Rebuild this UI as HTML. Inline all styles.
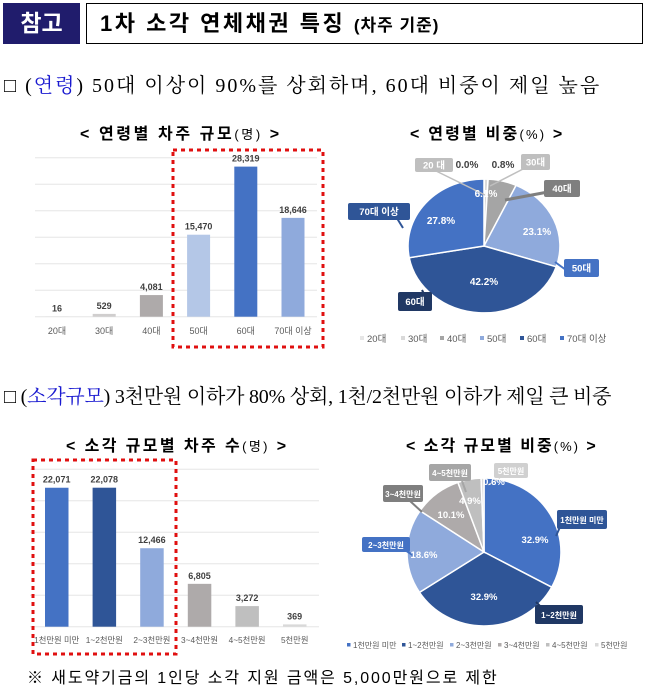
<!DOCTYPE html>
<html><head><meta charset="utf-8">
<style>
html,body{margin:0;padding:0;background:#fff;}
body{width:656px;height:696px;position:relative;overflow:hidden;font-family:"Liberation Sans","Noto Sans CJK KR",sans-serif;}
.abs{position:absolute;white-space:nowrap;}
.ser{font-family:"Liberation Serif","Noto Serif CJK SC","Noto Sans CJK KR",serif;}
</style></head><body>
<div class="abs" style="left:3px;top:3px;width:77px;height:41px;background:#201c6c;color:#fff;font-weight:bold;font-size:23px;line-height:41px;text-align:center;">참고</div>
<div class="abs" style="left:86px;top:3px;width:555px;height:39px;border:1px solid #000;"></div>
<div class="abs" style="left:100px;top:3px;line-height:41px;font-size:22px;font-weight:bold;letter-spacing:2.5px;">1차 소각 연체채권 특징 <span style="font-size:17px;letter-spacing:1px">(차주 기준)</span></div>

<div class="abs ser" style="left:4px;top:72px;font-size:20px;line-height:28px;letter-spacing:2px;">□ (<span style="color:#1a1ad0">연령</span>) 50대 이상이 90%를 상회하며, 60대 비중이 제일 높음</div>
<div class="abs ser" style="left:4px;top:383px;font-size:20px;line-height:28px;letter-spacing:-0.2px;">□ (<span style="color:#1a1ad0">소각규모</span>) 3천만원 이하가 80% 상회, 1천/2천만원 이하가 제일 큰 비중</div>

<div class="abs" style="left:80px;top:120px;font-size:16px;font-weight:bold;letter-spacing:2.6px;">&lt; 연령별 차주 규모<span style="font-weight:normal;font-size:13px">(명)</span> &gt;</div>
<div class="abs" style="left:410px;top:120px;font-size:16px;font-weight:bold;letter-spacing:2.2px;">&lt; 연령별 비중<span style="font-weight:normal;font-size:13px">(%)</span> &gt;</div>
<div class="abs" style="left:66px;top:432px;font-size:16px;font-weight:bold;letter-spacing:2.4px;">&lt; 소각 규모별 차주 수<span style="font-weight:normal;font-size:13px">(명)</span> &gt;</div>
<div class="abs" style="left:406px;top:432px;font-size:16px;font-weight:bold;letter-spacing:2px;">&lt; 소각 규모별 비중<span style="font-weight:normal;font-size:13px">(%)</span> &gt;</div>
<div class="abs" style="left:27px;top:664px;font-size:16px;letter-spacing:1.9px;">※ 새도약기금의 1인당 소각 지원 금액은 5,000만원으로 제한</div>

<svg id="s" width="656" height="696" style="position:absolute;left:0;top:0;font-family:'Liberation Sans','Noto Sans CJK KR',sans-serif;"></svg>
<script>
var s=document.getElementById('s'),h='';
function R(x,y,w,hh,c,ex){h+='<rect x="'+x+'" y="'+y+'" width="'+w+'" height="'+hh+'" fill="'+c+'" '+(ex||'')+'/>';}
function T(x,y,t,sz,c,ex){h+='<text x="'+x+'" y="'+y+'" font-size="'+sz+'" fill="'+c+'" text-anchor="middle" '+(ex||'')+'>'+t+'</text>';}
function L(x1,y1,x2,y2,c,ex){h+='<line x1="'+x1+'" y1="'+y1+'" x2="'+x2+'" y2="'+y2+'" stroke="'+c+'" '+(ex||'')+'/>';}
for(var i=0;i<7;i++){var y=157.7+i*26.5;L(35,y,317,y,'#e6e6e6');}
var tb=[[16,'20대','#d0cece'],[529,'30대','#d0cece'],[4081,'40대','#aeaaaa'],[15470,'50대','#b4c7e7'],[28319,'60대','#4472c4'],[18646,'70대 이상','#8faadc']];
tb.forEach(function(b,i){var cx=57+i*47.2,hh=b[0]/30000*159;R(cx-11.5,316.7-hh,23,hh,b[2]);T(cx,316.7-hh-5,b[0].toLocaleString('en-US'),9,'#404040','font-weight="bold"');T(cx,334,b[1],9,'#595959');});
h+='<rect x="173" y="150" width="150" height="197" fill="none" stroke="#e01010" stroke-width="3" stroke-dasharray="4,4"/>';
for(var i=0;i<6;i++){var y=469.3+i*31.5;L(30,y,319,y,'#e6e6e6');}
var bb=[[22071,'1천만원 미만','#4472c4'],[22078,'1~2천만원','#2f5597'],[12466,'2~3천만원','#8faadc'],[6805,'3~4천만원','#aeaaaa'],[3272,'4~5천만원','#bfbfbf'],[369,'5천만원','#d9d9d9']];
bb.forEach(function(b,i){var cx=56.7+i*47.6,hh=b[0]/25000*157.4;R(cx-11.7,626.7-hh,23.5,hh,b[2]);T(cx,626.7-hh-5,b[0].toLocaleString('en-US'),9,'#404040','font-weight="bold"');T(cx,643,b[1],8.3,'#595959');});
h+='<rect x="33" y="460" width="143" height="194" fill="none" stroke="#e01010" stroke-width="3" stroke-dasharray="4,4"/>';
function pie(cx,cy,rx,ry,vals,cols){var a=0,tot=vals.reduce(function(p,c){return p+c},0);vals.forEach(function(v,i){var a2=a+v/tot*2*Math.PI;
var x1=cx+rx*Math.sin(a),y1=cy-ry*Math.cos(a),x2=cx+rx*Math.sin(a2),y2=cy-ry*Math.cos(a2);
h+='<path d="M'+cx+','+cy+' L'+x1.toFixed(1)+','+y1.toFixed(1)+' A'+rx+','+ry+' 0 '+((a2-a)>Math.PI?1:0)+' 1 '+x2.toFixed(1)+','+y2.toFixed(1)+' Z" fill="'+cols[i]+'" stroke="#fff" stroke-width="1.5"/>';a=a2;});}
pie(484,246,76,67,[0.05,0.8,6.1,23.1,42.2,27.8],['#e6e6e6','#d9d9d9','#a5a5a5','#8faadc','#2f5597','#4472c4']);
pie(484,552,77,74,[32.9,32.9,18.6,10.1,4.9,0.6],['#4472c4','#2f5597','#8faadc','#aeaaaa','#bfbfbf','#d9d9d9']);
function box(x,y,w,hh,c,t,tc,sz){R(x,y,w,hh,c,'rx="2"');T(x+w/2,y+hh/2+3.3,t,sz||9.5,tc||'#fff','font-weight="bold"');}
L(432,169,485,195,'#bfbfbf','stroke-width="1.5"');box(415,158,38,14,'#bfbfbf','20 대');
T(467,168,'0.0%',10,'#404040','font-weight="bold"');T(503,168,'0.8%',10,'#404040','font-weight="bold"');
L(490,186,525,168,'#bfbfbf','stroke-width="1.5"');box(521,154,29,16,'#bfbfbf','30대');
L(505,200,548,192,'#7f7f7f','stroke-width="3"');box(544,180,36,17,'#7f7f7f','40대');
L(555,262,566,270,'#4472c4','stroke-width="2"');box(564,259,35,18,'#4472c4','50대');
L(422,290,425,296,'#203864','stroke-width="2"');box(398,292,34,19,'#203864','60대');
L(395,215,403,228,'#2f5597','stroke-width="2"');box(348,203,62,17,'#2f5597','70대 이상');
T(486,197,'6.1%',10,'#fff','font-weight="bold"');T(537,235,'23.1%',10,'#fff','font-weight="bold"');
T(484,285,'42.2%',10,'#fff','font-weight="bold"');T(441,224,'27.8%',10,'#fff','font-weight="bold"');
var lg=[['20대','#e6e6e6',360],['30대','#d9d9d9',401],['40대','#a5a5a5',440],['50대','#8faadc',480],['60대','#2f5597',520],['70대 이상','#4472c4',560]];
lg.forEach(function(l){R(l[2],336,4,4,l[1]);h+='<text x="'+(l[2]+7)+'" y="342" font-size="9.5" fill="#595959">'+l[0]+'</text>';});
L(488,485,500,478,'#d0d0d0');box(494,463,34,15,'#d0d0d0','5천만원','#fff',8);
L(462,481,466,492,'#a6a6a6','stroke-width="2"');box(429,464,42,17,'#a6a6a6','4~5천만원','#fff',8);
L(410,501,422,512,'#7f7f7f','stroke-width="2"');box(383,485,40,17,'#7f7f7f','3~4천만원','#fff',8);
L(405,550,414,556,'#4472c4','stroke-width="2"');box(362,537,48,15,'#4472c4','2~3천만원','#fff',8);
L(560,527,556,536,'#2f5597','stroke-width="2"');box(557,510,50,19,'#2f5597','1천만원 미만','#fff',8);
L(540,606,536,602,'#203864','stroke-width="2"');box(535,605,48,19,'#203864','1~2천만원','#fff',8);
T(494,485,'0.6%',9.5,'#fff','font-weight="bold"');T(470,504,'4.9%',9.5,'#fff','font-weight="bold"');
T(451,518,'10.1%',9.5,'#fff','font-weight="bold"');T(424,558,'18.6%',9.5,'#fff','font-weight="bold"');
T(535,543,'32.9%',9.5,'#fff','font-weight="bold"');T(484,600,'32.9%',9.5,'#fff','font-weight="bold"');
var lg2=[['1천만원 미만','#4472c4',347],['1~2천만원','#2f5597',402],['2~3천만원','#8faadc',450],['3~4천만원','#aeaaaa',498],['4~5천만원','#bfbfbf',546],['5천만원','#d9d9d9',595]];
lg2.forEach(function(l){R(l[2],643,3.5,3.5,l[1]);h+='<text x="'+(l[2]+6)+'" y="648" font-size="8" fill="#595959">'+l[0]+'</text>';});
s.innerHTML=h;
</script>
</body></html>
